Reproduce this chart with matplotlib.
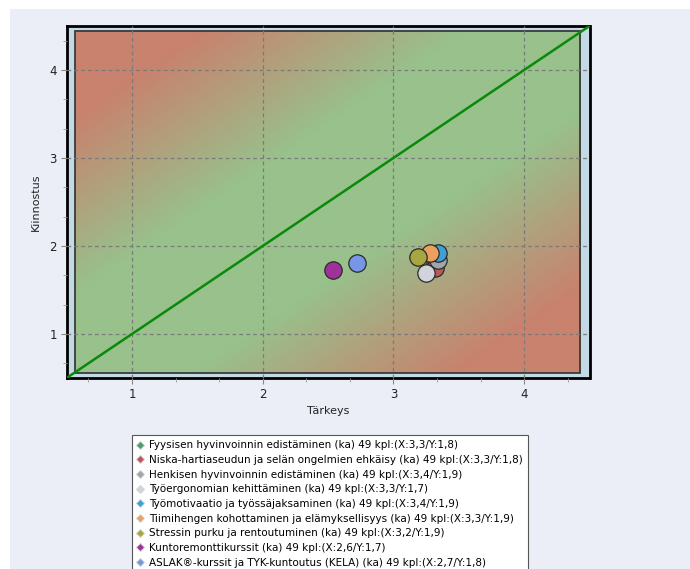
import numpy as np
import matplotlib
matplotlib.use('Agg')
import matplotlib.pyplot as plt
from matplotlib.lines import Line2D
from matplotlib.patches import Rectangle

# data
labels = [
    'Fyysisen hyvinvoinnin edistäminen (ka) 49 kpl:(X:3,3/Y:1,8)',
    'Niska-hartiaseudun ja selän ongelmien ehkäisy (ka) 49 kpl:(X:3,3/Y:1,8)',
    'Henkisen hyvinvoinnin edistäminen (ka) 49 kpl:(X:3,4/Y:1,9)',
    'Työergonomian kehittäminen (ka) 49 kpl:(X:3,3/Y:1,7)',
    'Työmotivaatio ja työssäjaksaminen (ka) 49 kpl:(X:3,4/Y:1,9)',
    'Tiimihengen kohottaminen ja elämyksellisyys (ka) 49 kpl:(X:3,3/Y:1,9)',
    'Stressin purku ja rentoutuminen (ka) 49 kpl:(X:3,2/Y:1,9)',
    'Kuntoremonttikurssit (ka) 49 kpl:(X:2,6/Y:1,7)',
    'ASLAK®-kurssit ja TYK-kuntoutus (KELA) (ka) 49 kpl:(X:2,7/Y:1,8)',
]
x_vals = [3.32, 3.32, 3.34, 3.25, 3.34, 3.28, 3.19, 2.54, 2.72]
y_vals = [1.79, 1.75, 1.84, 1.69, 1.92, 1.92, 1.88, 1.73, 1.81]
colors = ['#4f9a6e', '#b85a5a', '#a0a4ac', '#d2d4dc', '#3fa0d2',
          '#eba060', '#a8a640', '#a0309a', '#7896e6']

green = np.array([152, 193, 140]) / 255
red = np.array([200, 130, 110]) / 255

fig = plt.figure(figsize=(6.9, 5.69), dpi=100, facecolor='white')
fig.patches.append(Rectangle((10 / 690, 0), 1, 1 - 9 / 569, transform=fig.transFigure,
                             facecolor='#ebeef7', edgecolor='none', zorder=-10))

ax = fig.add_axes([66.6 / 690, 1 - 378 / 569, 522.9 / 690, 352 / 569])
ax.set_facecolor('#c3d9e6')
ax.set_xlim(0.5, 4.5)
ax.set_ylim(0.5, 4.5)

# background gradient: green near the diagonal, red far from it
x0, x1, y0, y1 = 0.562, 4.43, 0.56, 4.44
gx, gy = np.meshgrid(np.linspace(x0, x1, 300), np.linspace(y0, y1, 300))
t = np.clip((np.abs(gx - gy) - 0.9) / 2.0, 0, 1)[..., None]
img = green * (1 - t) + red * t
ax.imshow(img, extent=(x0, x1, y0, y1), origin='lower', aspect='auto', zorder=0)
ax.add_patch(Rectangle((x0, y0), x1 - x0, y1 - y0, fill=False, edgecolor='#3a3a3a',
                       lw=1.3, zorder=1))

ax.grid(True, which='major', linestyle=(0, (3, 2.5)), color='#7a7a7a', lw=0.9, zorder=2)
ax.set_axisbelow(False)
ax.plot([0.5, 4.5], [0.5, 4.5], color='#0a8a0a', lw=1.8, zorder=3)

for xv, yv, c in zip(x_vals, y_vals, colors):
    ax.plot(xv, yv, 'o', ms=12.5, mfc=c, mec='#2a2a2a', mew=0.9, zorder=4)

ax.set_xticks([1, 2, 3, 4])
ax.set_yticks([1, 2, 3, 4])
ax.set_xticks(np.arange(2, 14) / 3, minor=True)
ax.set_yticks(np.arange(2, 14) / 3, minor=True)
ax.tick_params(which='major', length=4, color='#888888', labelsize=8.5, labelcolor='#222222', pad=3)
ax.tick_params(which='minor', length=3, color='#999999')
for s in ax.spines.values():
    s.set_linewidth(2)
    s.set_color('black')
ax.set_xlabel('Tärkeys', fontsize=8, color='#222222', labelpad=4)
ax.set_ylabel('Kiinnostus', fontsize=8, color='#222222', labelpad=6)

handles = [Line2D([], [], marker='D', ls='none', ms=4, mfc=c, mec='#d0d0d0', mew=0.6)
           for c in colors]
leg = fig.legend(handles, labels, loc='upper left', bbox_to_anchor=(132 / 690, 1 - 435 / 569),
                 fontsize=7.5, frameon=True, fancybox=False, labelspacing=0.45,
                 handlelength=0.6, handletextpad=0.5, borderpad=0.5, borderaxespad=0,
                 framealpha=1, facecolor='white')
leg.get_frame().set_edgecolor('#555555')
leg.get_frame().set_linewidth(0.8)

fig.savefig('out.png', dpi=100, facecolor=fig.get_facecolor())
